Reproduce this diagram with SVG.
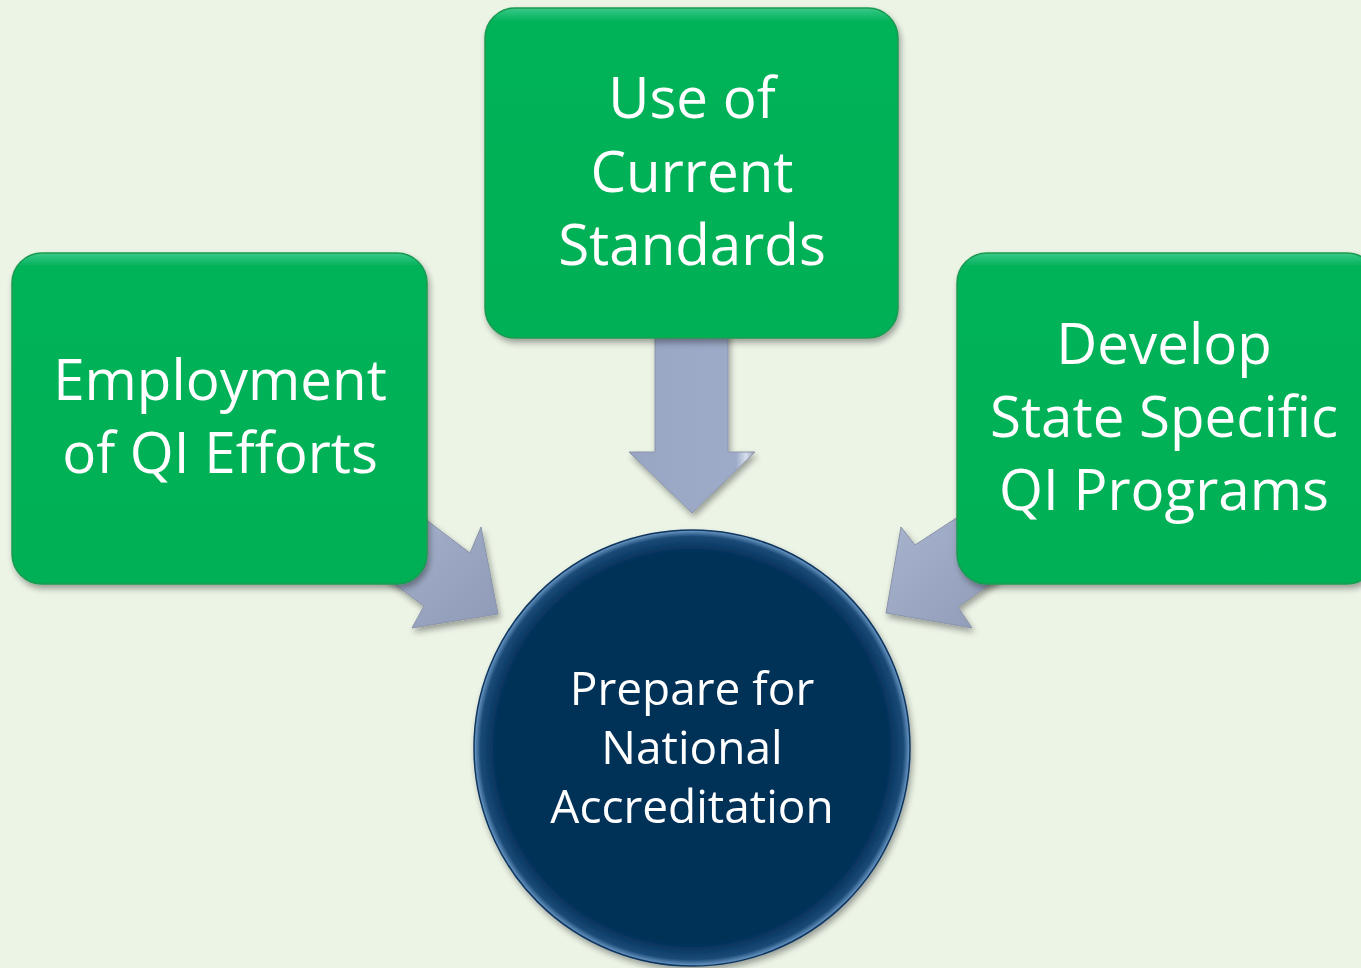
<svg xmlns="http://www.w3.org/2000/svg" width="1361" height="968" viewBox="0 0 1361 968">
<defs>
<style>
.t{font-family:"Open Sans","Liberation Sans",sans-serif;fill:#fff;text-anchor:middle}
.big{font-size:56.5px}
.sm{font-size:46px}
.box{fill:url(#gGreen);stroke:#1a9a50;stroke-width:1.5}
.arr{fill:url(#gArrow);stroke:#8a94a8;stroke-width:1}
</style>
<linearGradient id="gGreen" x1="0" y1="0" x2="0" y2="1">
<stop offset="0" stop-color="#3cc98a"/>
<stop offset="0.04" stop-color="#00b259"/>
<stop offset="1" stop-color="#00b056"/>
</linearGradient>
<linearGradient id="gArrow" x1="0" y1="0" x2="1" y2="1">
<stop offset="0" stop-color="#aab6d0"/>
<stop offset="1" stop-color="#8e9ab6"/>
</linearGradient>
<linearGradient id="gDown" x1="0" y1="0" x2="1" y2="0">
<stop offset="0" stop-color="#98a6c4"/>
<stop offset="0.85" stop-color="#9eabc8"/>
<stop offset="0.93" stop-color="#d8e0ef"/>
<stop offset="1" stop-color="#8e9ab6"/>
</linearGradient>
<radialGradient id="gCircle" cx="0.5" cy="0.5" r="0.5">
<stop offset="0.9" stop-color="#023059"/>
<stop offset="0.97" stop-color="#1a4a78"/>
<stop offset="1" stop-color="#6f9cc8"/>
</radialGradient>
<filter id="sh" x="-10%" y="-10%" width="120%" height="125%">
<feGaussianBlur in="SourceAlpha" stdDeviation="3"/>
<feOffset dx="2" dy="4"/>
<feComponentTransfer><feFuncA type="linear" slope="0.35"/></feComponentTransfer>
<feMerge><feMergeNode/><feMergeNode in="SourceGraphic"/></feMerge>
</filter>
</defs>
<rect width="1361" height="968" fill="#ecf4e6"/>
<g id="connectors">
<path class="arr" d="M655,330 L728,330 L728,452 L755,452 L692,513 L629,452 L655,452 Z" style="fill:url(#gDown)" filter="url(#sh)"/>
<path class="arr" d="M400,500 L470,553 L481,527 L498,614 L412,628 L424,606 L370,566 Z" filter="url(#sh)"/>
<path class="arr" d="M984,500 L915,545 L901,527 L886,613 L972,628 L958,607 L1010,570 Z" filter="url(#sh)"/>
</g>
<g id="node-top" filter="url(#sh)">
<rect class="box" x="485" y="8" width="413" height="330" rx="30"/>
<text class="t big" x="692" y="118">Use of</text>
<text class="t big" x="692" y="192">Current</text>
<text class="t big" x="692" y="265">Standards</text>
</g>
<g id="node-left" filter="url(#sh)">
<rect class="box" x="12" y="253" width="415" height="331" rx="30"/>
<text class="t big" x="220" y="400">Employment</text>
<text class="t big" x="220" y="473">of QI Efforts</text>
</g>
<g id="node-right" filter="url(#sh)">
<rect class="box" x="957" y="253" width="420" height="331" rx="30"/>
<text class="t big" x="1164" y="364">Develop</text>
<text class="t big" x="1164" y="437">State Specific</text>
<text class="t big" x="1164" y="510">QI Programs</text>
</g>
<g id="node-center" filter="url(#sh)">
<circle cx="692" cy="748" r="218" fill="url(#gCircle)" stroke="#0d3560" stroke-width="1.5"/>
<text class="t sm" x="692" y="705">Prepare for</text>
<text class="t sm" x="692" y="764">National</text>
<text class="t sm" x="692" y="823">Accreditation</text>
</g>
</svg>
